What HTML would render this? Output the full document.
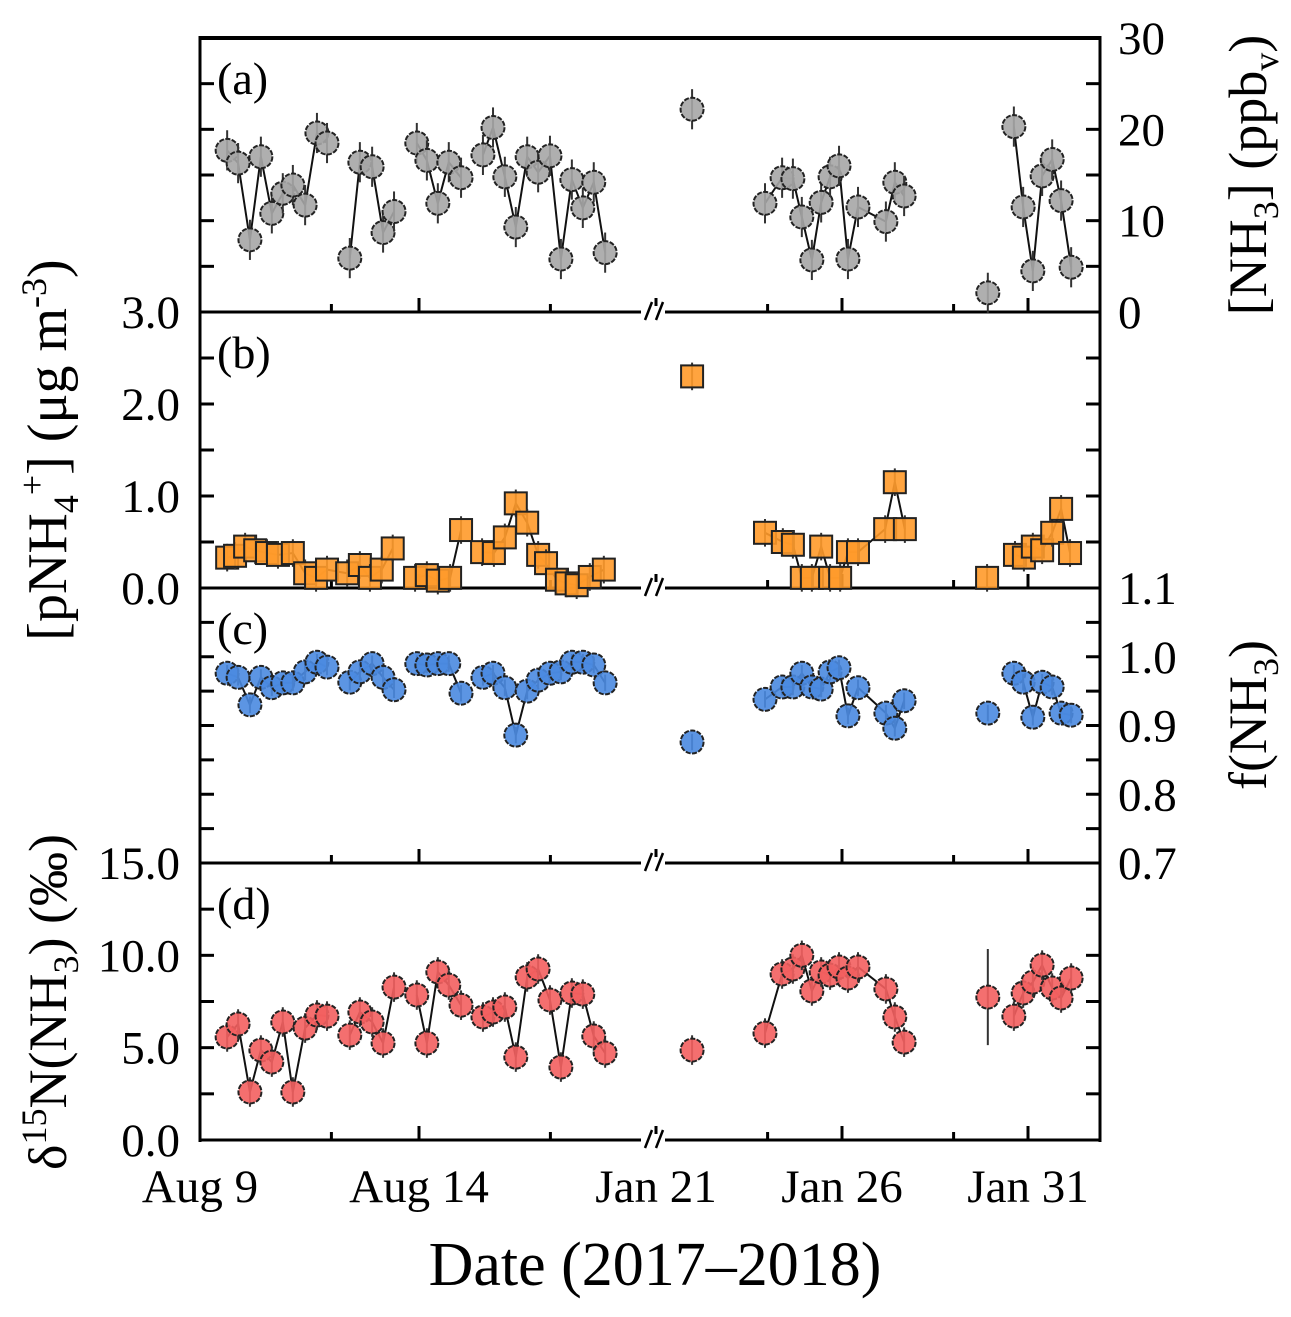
<!DOCTYPE html>
<html><head><meta charset="utf-8"><style>
html,body{margin:0;padding:0;background:#fff;}
svg{display:block;font-family:"Liberation Serif",serif;}
</style></head><body>
<svg id="chart" width="1291" height="1317" viewBox="0 0 1291 1317" xmlns="http://www.w3.org/2000/svg"></svg>
<script>
// ---- data ----
const days = [9.62,9.87,10.14,10.39,10.64,10.89,11.12,11.40,11.67,11.90,
 12.42,12.65,12.93,13.18,13.43, 13.95,14.18,14.43,14.68,14.96,
 15.46,15.69,15.96,16.21,16.47,16.72,16.99,17.24,17.49,17.74,17.99,18.25,
 21.97,
 23.93,24.39,24.68,24.92,25.19,25.44,25.68,25.92,26.16,26.43,27.18,27.42,27.67,
 29.92,
 30.62,30.87,31.13,31.38,31.65,31.89,32.16];
const groups = [1,1,1,1,1,1,1,1,1,1, 2,2,2,2,2, 3,3,3,3,3, 4,4,4,4,4,4,4,4,4,4,4,4, 5, 6,6,6,6,6,6,6,6,6,6,6,6,6, 7, 8,8,8,8,8,8,8];
const nh3 = [17.7,16.3,7.9,17.0,10.8,13.0,13.9,11.7,19.6,18.5, 5.9,16.4,15.9,8.7,11.0, 18.5,16.6,11.9,16.4,14.7,
 17.2,20.2,14.8,9.3,17.0,15.3,17.1,5.8,14.5,11.4,14.2,6.5, 22.2,
 11.9,14.7,14.6,10.4,5.7,12.0,14.8,16.0,5.8,11.5,9.9,14.2,12.7, 2.1, 20.3,11.5,4.5,14.9,16.7,12.2,4.9];
const fnh3 = [0.976,0.97,0.93,0.97,0.955,0.962,0.962,0.978,0.992,0.985, 0.963,0.978,0.99,0.97,0.952, 0.99,0.988,0.99,0.99,0.947,
 0.97,0.976,0.955,0.886,0.95,0.966,0.976,0.978,0.992,0.992,0.988,0.962, 0.876,
 0.938,0.956,0.956,0.976,0.956,0.953,0.978,0.984,0.914,0.955,0.918,0.896,0.936, 0.918, 0.976,0.963,0.912,0.963,0.956,0.918,0.915];
const d15n = [5.58,6.28,2.6,4.87,4.22,6.39,2.6,6.06,6.77,6.71, 5.68,6.93,6.39,5.25,8.28, 7.85,5.25,9.1,8.39,7.3,
 6.66,6.93,7.2,4.49,8.83,9.26,7.58,3.95,7.96,7.9,5.63,4.71, 4.87,
 5.79,8.99,9.26,10.0,8.07,9.1,8.93,9.37,8.77,9.37,8.18,6.66,5.3, 7.74, 6.71,7.96,8.55,9.47,8.23,7.69,8.77];
const d15nErr = [0.8,0.8,0.8,0.8,0.8,0.8,0.8,0.8,0.8,0.8, 0.8,0.8,0.8,0.8,0.8, 0.8,0.8,0.8,0.8,0.8,
 0.8,0.8,0.8,0.8,0.8,0.8,0.8,0.8,0.8,0.8,0.8,0.8, 0.8,
 0.8,0.8,0.8,0.8,0.8,0.8,0.8,0.8,0.8,0.8,0.8,0.8,0.8, 2.6, 0.8,0.8,0.8,0.8,0.8,0.8,0.8];
const daysB = [9.62,9.80,10.03,10.26,10.53,10.78,11.12,11.40,11.65,11.90,12.36,12.65,12.88,13.15,13.40,
 13.91,14.18,14.43,14.71,14.96, 15.44,15.71,15.96,16.21,16.47,16.72,16.90,17.15,17.37,17.60,17.90,18.22,
 21.97, 23.93,24.41,24.68,24.92,25.19,25.44,25.68,25.95,26.16,26.43,27.16,27.42,27.69,
 29.9, 30.65,30.89,31.13,31.38,31.65,31.89,32.13];
const groupsB = [1,1,1,1,1,1,1,1,1,1,1,1,1,1,1, 2,2,2,2,2, 3,3,3,3,3,3,3,3,3,3,3,3, 4, 5,5,5,5,5,5,5,5,5,5,5,5,5, 6, 7,7,7,7,7,7,7];
const pnh4 = [0.33,0.35,0.45,0.41,0.38,0.36,0.38,0.16,0.11,0.2,0.16,0.25,0.11,0.2,0.43,
 0.11,0.14,0.08,0.11,0.63, 0.39,0.38,0.55,0.92,0.71,0.36,0.27,0.09,0.05,0.03,0.12,0.2,
 2.3, 0.6,0.5,0.47,0.11,0.11,0.45,0.11,0.11,0.39,0.39,0.64,1.15,0.64,
 0.11, 0.36,0.33,0.45,0.41,0.6,0.86,0.38];
const xTickDays = [9,14,21,26,31];
const xTickLabels = ["Aug 9","Aug 14","Jan 21","Jan 26","Jan 31"];
const xMinorDays = [12,17,24,29];

// ---- scales ----
const L=200,R=1100;
function xs(d){ return d<20 ? L+(d-9)*43.8 : 656+(d-21)*37.2; }
const panels = {
 a:{top:38,bot:312,min:0,max:30},
 b:{top:312,bot:588,min:0,max:3},
 c:{top:588,bot:863,min:0.7,max:1.1},
 d:{top:863,bot:1140,min:0,max:15}
};
function ys(p,v){ const P=panels[p]; return P.bot-(v-P.min)/(P.max-P.min)*(P.bot-P.top); }

const svg=document.getElementById('chart');
const NS='http://www.w3.org/2000/svg';
function mk(tag,attrs,parent){const e=document.createElementNS(NS,tag);for(const k in attrs)e.setAttribute(k,attrs[k]);(parent||svg).appendChild(e);return e;}
function txt(s,x,y,size,anchor,parent){const t=mk('text',{x:x,y:y,'font-size':size,'text-anchor':anchor||'middle',fill:'#000'},parent);t.textContent=s;return t;}

// ---- frame ----
const frame=mk('g',{});


mk('line',{x1:L,y1:38,x2:R,y2:38,stroke:'#000','stroke-width':4},frame);
mk('line',{x1:L,y1:36,x2:L,y2:1142,stroke:'#000','stroke-width':3},frame);
mk('line',{x1:R,y1:36,x2:R,y2:1142,stroke:'#000','stroke-width':3},frame);
['a','b','c','d'].forEach(p=>{
  const y=panels[p].bot;
  mk('line',{x1:L,y1:y,x2:R,y2:y,stroke:'#000','stroke-width':3},frame);
  xTickDays.forEach(d=>mk('line',{x1:xs(d),y1:y,x2:xs(d),y2:y-14,stroke:'#000','stroke-width':3},frame));
  xMinorDays.forEach(d=>mk('line',{x1:xs(d),y1:y,x2:xs(d),y2:y-8,stroke:'#000','stroke-width':3},frame));
  const bk=mk('g',{},frame);
  
  
  mk('rect',{x:641,y:y-6,width:24,height:10,fill:'#fff'},bk);
  mk('line',{x1:645,y1:y+8,x2:652,y2:y-10,stroke:'#000','stroke-width':2.5},bk);
  mk('line',{x1:656,y1:y+8,x2:663,y2:y-10,stroke:'#000','stroke-width':2.5},bk);
});
function yTicks(p,step){
  const P=panels[p];
  for(let v=P.min+step;v<P.max-1e-9;v+=step){
    const y=ys(p,v);
    mk('line',{x1:L,y1:y,x2:L+14,y2:y,stroke:'#000','stroke-width':3},frame);
    mk('line',{x1:R,y1:y,x2:R-14,y2:y,stroke:'#000','stroke-width':3},frame);
  }
}
yTicks('a',5); yTicks('b',0.5); yTicks('c',0.05); yTicks('d',2.5);

// ---- tick labels ----
const lab=mk('g',{});


const FS=47;
const leftB=["3.0","2.0","1.0","0.0"], leftBv=[3,2,1,0];
leftB.forEach((s,i)=>txt(s,180,ys('b',leftBv[i])+16,FS,'end',lab));
const leftD=["15.0","10.0","5.0","0.0"], leftDv=[15,10,5,0];
leftD.forEach((s,i)=>txt(s,180,ys('d',leftDv[i])+16,FS,'end',lab));
const rightA=["30","20","10","0"], rightAv=[30,20,10,0];
rightA.forEach((s,i)=>txt(s,1118,ys('a',rightAv[i])+16,FS,'start',lab));
const rightC=["1.1","1.0","0.9","0.8","0.7"], rightCv=[1.1,1.0,0.9,0.8,0.7];
rightC.forEach((s,i)=>txt(s,1118,ys('c',rightCv[i])+16,FS,'start',lab));
xTickLabels.forEach((s,i)=>txt(s,xs(xTickDays[i]),1202,FS,'middle',lab));

// ---- titles ----
const xt=txt('Date (2017\u20132018)',655,1285,62,'middle');


function vtitle(name,x,y,size,html){
  const t=mk('text',{x:0,y:0,'font-size':size,'text-anchor':'middle',transform:`translate(${x},${y}) rotate(-90)`});
  t.innerHTML=html;
  
  
}
vtitle('left-title-pnh4',66,450,56,'[pNH<tspan font-size="36" dy="12">4</tspan><tspan font-size="36" dy="-34">+</tspan><tspan dy="22">] (\u03bcg m</tspan><tspan font-size="36" dy="-20">-3</tspan><tspan dy="20">)</tspan>');
vtitle('left-title-d15n',66,1002,54,'\u03b4<tspan font-size="36" dy="-20">15</tspan><tspan dy="20">N(NH</tspan><tspan font-size="36" dy="12">3</tspan><tspan dy="-12">) (\u2030)</tspan>');
vtitle('right-title-nh3',1266,175,54,'[NH<tspan font-size="36" dy="12">3</tspan><tspan dy="-12">] (ppb</tspan><tspan font-size="36" dy="12">v</tspan><tspan dy="-12">)</tspan>');
vtitle('right-title-fnh3',1266,715,54,'f(NH<tspan font-size="36" dy="12">3</tspan><tspan dy="-12">)</tspan>');

['(a)','(b)','(c)','(d)'].forEach((s,i)=>{
  const p='abcd'[i];
  const t=txt(s,217,panels[p].top+56,46,'start');
  
  
});

// ---- series ----
function series(name,p,xd,vals,grp,err,fill,shape){
  const g=mk('g',{});
  
  
  let pts=[];
  for(let i=0;i<=xd.length;i++){
    if(i<xd.length && (i===0||grp[i]===grp[i-1])) pts.push(xs(xd[i])+','+ys(p,vals[i]));
    else{
      if(pts.length>1) mk('polyline',{points:pts.join(' '),fill:'none',stroke:'#111','stroke-width':2},g);
      pts= i<xd.length ? [xs(xd[i])+','+ys(p,vals[i])] : [];
    }
  }
  for(let i=0;i<xd.length;i++){
    const x=xs(xd[i]),y=ys(p,vals[i]);
    const e=(typeof err==='number'?err:err[i]);
    mk('line',{x1:x,y1:ys(p,vals[i]+e),x2:x,y2:ys(p,vals[i]-e),stroke:'#333','stroke-width':2},g);
    let m;
    if(shape==='sq') m=mk('rect',{x:x-11,y:y-11,width:22,height:22,fill:fill,'fill-opacity':0.9,stroke:'#222','stroke-width':2},g);
    else m=mk('circle',{cx:x,cy:y,r:11.5,fill:fill,'fill-opacity':0.9,stroke:'#222','stroke-width':2,'stroke-dasharray':'5 1.5'},g);
    
    
  }
}
series('nh3-series','a',days,nh3,groups,2.2,'#a6a6a6','c');
series('pnh4-series','b',daysB,pnh4,groupsB,0.15,'#ff9a2a','sq');
series('fnh3-series','c',days,fnh3,groups,0.012,'#4a8ae0','c');
series('d15n-series','d',days,d15n,groups,d15nErr,'#f35f5f','c');
</script>
</body></html>
